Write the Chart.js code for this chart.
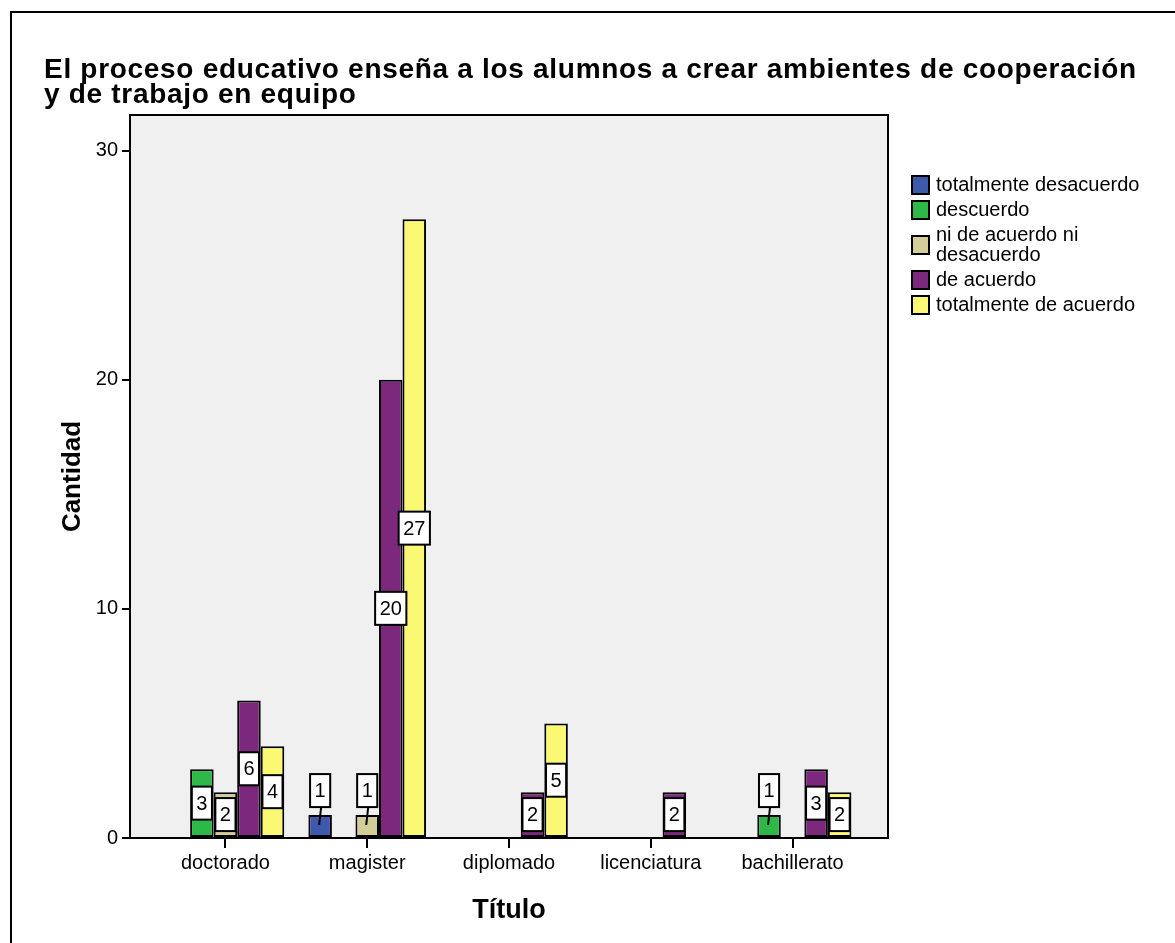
<!DOCTYPE html>
<html>
<head>
<meta charset="utf-8">
<script src="https://cdn.jsdelivr.net/npm/chart.js@4"></script>
<style>
  html, body { margin: 0; padding: 0; background: #fff; }
  canvas { display: block; }
</style>
</head>
<body>
<canvas id="chart" width="1175" height="943"></canvas>
<script>
const chartTitle = ["El proceso educativo enseña a los alumnos a crear ambientes de cooperación", "y de trabajo en equipo"];
const categories = ["doctorado", "magister", "diplomado", "licenciatura", "bachillerato"];
const seriesNames = ["totalmente desacuerdo", "descuerdo", "ni de acuerdo ni desacuerdo", "de acuerdo", "totalmente de acuerdo"];
const seriesColors = ["#3e58ac", "#2eb848", "#d3ce97", "#7c287d", "#fbf873"];
const totalDesacuerdo = [0, 1, 0, 0, 0];
const desacuerdo = [3, 0, 0, 0, 1];
const niAcuerdo = [2, 1, 0, 0, 0];
const deAcuerdo = [6, 20, 2, 2, 3];
const totalAcuerdo = [4, 27, 5, 0, 2];
const yTicks = [0, 10, 20, 30];

const FONT = "'Liberation Sans', Arial, sans-serif";
const seriesValues = [totalDesacuerdo, desacuerdo, niAcuerdo, deAcuerdo, totalAcuerdo];

// frame, plot background and border
const framePlugin = {
	id: "frame",
	beforeDraw(chart) {
		const { ctx, chartArea: a } = chart;
		ctx.save();
		ctx.fillStyle = "#f0f0f0";
		ctx.fillRect(a.left, a.top, a.right - a.left, a.bottom - a.top);
		ctx.strokeStyle = "#000";
		ctx.lineWidth = 2;
		ctx.beginPath();
		ctx.moveTo(11, 943);
		ctx.lineTo(11, 12);
		ctx.lineTo(1175, 12);
		ctx.stroke();
		// title
		ctx.fillStyle = "#000";
		ctx.font = "bold 28px " + FONT;
		ctx.letterSpacing = "0.7px";
		ctx.textBaseline = "alphabetic";
		ctx.textAlign = "left";
		ctx.fillText(chartTitle[0], 44, 78);
		ctx.fillText(chartTitle[1], 44, 103);
		ctx.restore();
	},
	afterDraw(chart) {
		const { ctx, chartArea: a } = chart;
		ctx.save();
		ctx.strokeStyle = "#000";
		ctx.lineWidth = 2;
		ctx.strokeRect(a.left, a.top, a.right - a.left, a.bottom - a.top);
		ctx.restore();
	},
};

// value boxes on bars
const labelPlugin = {
	id: "valueBoxes",
	afterDatasetsDraw(chart) {
		const { ctx } = chart;
		ctx.save();
		ctx.font = "20px " + FONT;
		ctx.textAlign = "center";
		ctx.textBaseline = "middle";
		chart.data.datasets.forEach((ds, di) => {
			const meta = chart.getDatasetMeta(di);
			meta.data.forEach((bar, i) => {
				const v = ds.data[i];
				if (!v) return;
				const txt = String(v);
				const w = ctx.measureText(txt).width + 9;
				const h = 33;
				const hgt = bar.base - bar.y;
				let cy = (bar.y + bar.base) / 2;
				let lifted = false;
				if (hgt < h + 4) {
					cy = bar.y - 8 - h / 2;
					lifted = true;
				}
				if (lifted) {
					ctx.strokeStyle = "#000";
					ctx.lineWidth = 2;
					ctx.beginPath();
					ctx.moveTo(bar.x + 1, cy + h / 2);
					ctx.lineTo(bar.x - 1, bar.base - 12);
					ctx.stroke();
				}
				ctx.fillStyle = "#fff";
				ctx.fillRect(bar.x - w / 2, cy - h / 2, w, h);
				ctx.strokeStyle = "#000";
				ctx.lineWidth = 2;
				ctx.strokeRect(bar.x - w / 2, cy - h / 2, w, h);
				ctx.fillStyle = "#000";
				ctx.fillText(txt, bar.x, cy + 1);
			});
		});
		ctx.restore();
	},
};

function wrapText(ctx, text, maxWidth) {
	const words = text.split(" ");
	const lines = [];
	let line = "";
	words.forEach((w) => {
		const test = line ? line + " " + w : w;
		if (ctx.measureText(test).width > maxWidth && line) {
			lines.push(line);
			line = w;
		} else {
			line = test;
		}
	});
	lines.push(line);
	return lines;
}

const legendPlugin = {
	id: "sideLegend",
	afterDraw(chart) {
		const { ctx } = chart;
		ctx.save();
		ctx.font = "20px " + FONT;
		ctx.textAlign = "left";
		ctx.textBaseline = "middle";
		let top = 175;
		chart.data.datasets.forEach((ds) => {
			const lines = wrapText(ctx, ds.label, 215);
			const blockH = lines.length * 20;
			const sy = top + blockH / 2 - 9;
			ctx.fillStyle = ds.backgroundColor;
			ctx.fillRect(912, sy, 17, 18);
			ctx.strokeStyle = "#000";
			ctx.lineWidth = 2;
			ctx.strokeRect(912, sy, 17, 18);
			ctx.fillStyle = "#000";
			lines.forEach((l, k) => ctx.fillText(l, 936, top + 10 + k * 20));
			top += blockH + 5;
		});
		ctx.restore();
	},
};

const datasets = seriesNames.map((name, k) => ({
	label: name,
	data: seriesValues[k],
	backgroundColor: seriesColors[k],
	borderColor: "#000",
	borderWidth: 2,
	borderSkipped: false,
	categoryPercentage: 0.83,
	barPercentage: 1,
}));

const chart = new Chart(document.getElementById("chart"), {
	type: "bar",
	data: { labels: categories, datasets },
	plugins: [framePlugin, labelPlugin, legendPlugin],
	options: {
		responsive: false,
		animation: false,
		layout: { padding: { top: 115, right: 287, left: 0, bottom: 0 } },
		plugins: {
			legend: { display: false },
			tooltip: { enabled: false },
			title: { display: false },
		},
		scales: {
			x: {
				afterFit(scale) {
					scale.height = 105;
				},
				afterBuildTicks(scale) {
					// extra space before the first and after the last category
					const m = 0.173;
					scale._startValue = -0.5 - m;
					scale._valueRange = categories.length + 2 * m;
				},
				grid: {
					offset: false,
					drawOnChartArea: false,
					drawTicks: true,
					tickLength: 10,
					color: "#000",
					lineWidth: 2,
				},
				border: { display: true, color: "#000", width: 2 },
				ticks: {
					color: "#000",
					font: { family: FONT, size: 20 },
					padding: 3,
					maxRotation: 0,
				},
				title: {
					display: true,
					text: "Título",
					color: "#000",
					font: { family: FONT, size: 27, weight: "bold" },
					padding: { top: 0, bottom: 16 },
				},
			},
			y: {
				min: 0,
				max: 31.55,
				afterFit(scale) {
					scale.width = 130;
				},
				afterBuildTicks(scale) {
					scale.ticks = yTicks.map((v) => ({ value: v }));
				},
				grid: {
					drawOnChartArea: false,
					drawTicks: true,
					tickLength: 8,
					color: "#000",
					lineWidth: 2,
				},
				border: { display: true, color: "#000", width: 2 },
				ticks: {
					color: "#000",
					font: { family: FONT, size: 20 },
					padding: 4,
				},
				title: {
					display: true,
					text: "Cantidad",
					color: "#000",
					font: { family: FONT, size: 26, weight: "bold" },
					padding: { top: 57, bottom: 0 },
				},
			},
		},
	},
});
</script>
</body>
</html>
